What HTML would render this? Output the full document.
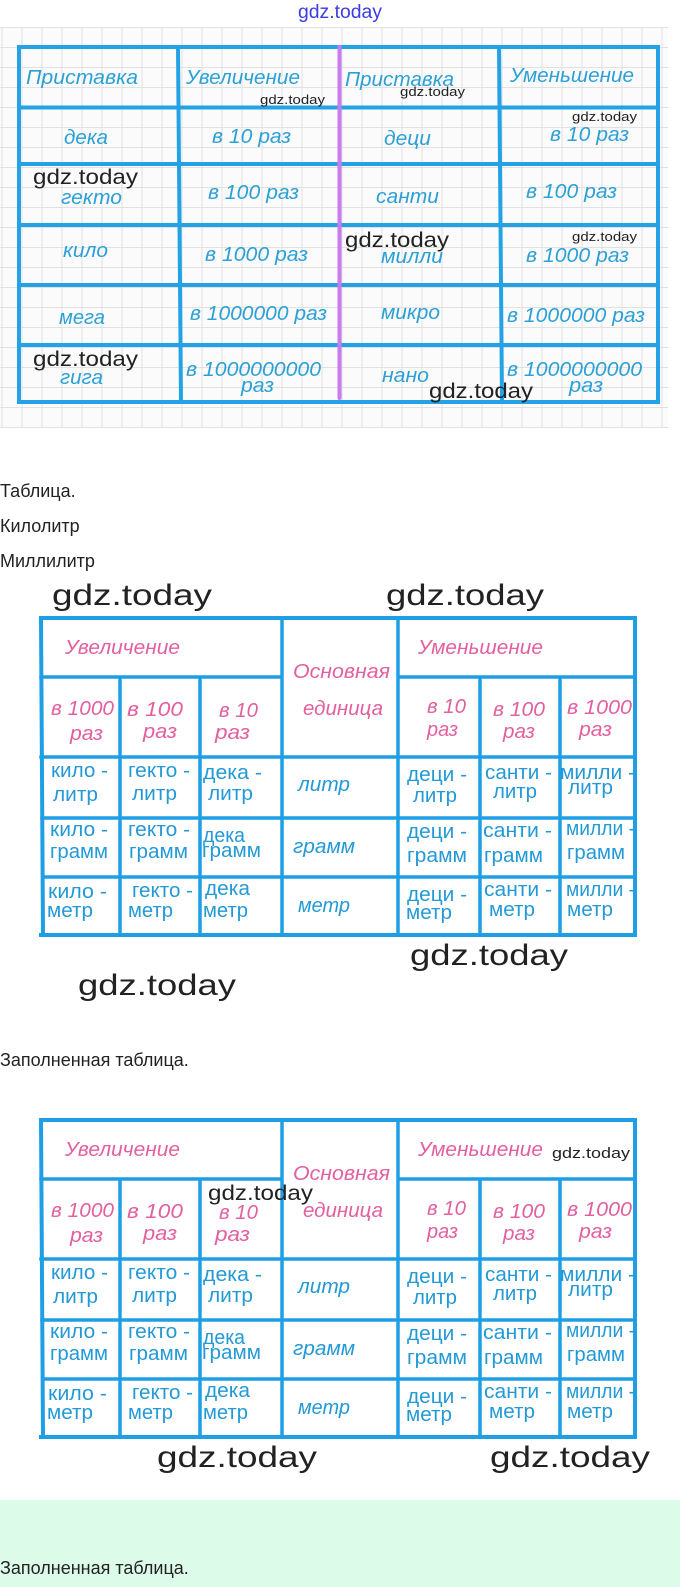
<!DOCTYPE html>
<html>
<head>
<meta charset="utf-8">
<style>
html,body{margin:0;padding:0;background:#fff;}
body{width:680px;height:1587px;overflow:hidden;}
svg{display:block;}
.t1{font-family:"Liberation Sans","DejaVu Sans",sans-serif;font-style:italic;font-size:20px;fill:#2ca0d6;}
.pk{font-family:"Liberation Sans","DejaVu Sans",sans-serif;font-style:italic;font-size:20px;fill:#e2609f;}
.bd{font-family:"Liberation Sans","DejaVu Sans",sans-serif;font-size:20px;fill:#2399d6;}
.bi{font-family:"Liberation Sans","DejaVu Sans",sans-serif;font-style:italic;font-size:20px;fill:#2399d6;}
.wm{font-family:"Liberation Sans","DejaVu Sans",sans-serif;fill:#222;}
.pt{font-family:"Liberation Sans","DejaVu Sans",sans-serif;font-size:18px;fill:#222;}
</style>
</head>
<body>
<svg width="680" height="1587" viewBox="0 0 680 1587" xmlns="http://www.w3.org/2000/svg">
<defs>
<pattern id="grid" x="1.5" y="27" width="20" height="20" patternUnits="userSpaceOnUse">
<rect width="20" height="20" fill="#fbfbfb"/>
<path d="M0 0.5H20M0.5 0V20" stroke="#e1e1e1" stroke-width="1"/>
</pattern>
</defs>

<!-- top watermark -->
<text class="wm" x="298" y="18" font-size="19" style="fill:#3c3ce0" textLength="84" lengthAdjust="spacingAndGlyphs">gdz.today</text>

<!-- grid paper -->
<rect x="0" y="27" width="668" height="401" fill="url(#grid)"/>

<!-- TABLE 1 lines -->
<g fill="none" stroke="#23a3e6" stroke-width="4" stroke-linecap="square">
<path d="M19 47H658M19 402H658M19 47V402M658 47V402M19 107.5H658M19 164H658M19 225H658M19 285H658M19 345H658M178 47L181 402M499 47L502 402"/>
</g>
<path d="M339.5 47V398" stroke="#c97cf0" stroke-width="4" stroke-linecap="round"/>

<!-- TABLE 1 text -->
<text class="t1" x="26" y="84" textLength="112" lengthAdjust="spacingAndGlyphs">Приставка</text>
<text class="t1" x="186" y="84" textLength="114" lengthAdjust="spacingAndGlyphs">Увеличение</text>
<text class="t1" x="345" y="86" textLength="109" lengthAdjust="spacingAndGlyphs">Приставка</text>
<text class="t1" x="510" y="82" textLength="124" lengthAdjust="spacingAndGlyphs">Уменьшение</text>

<text class="t1" x="64" y="144" textLength="44" lengthAdjust="spacingAndGlyphs">дека</text>
<text class="t1" x="212" y="143" textLength="79" lengthAdjust="spacingAndGlyphs">в 10 раз</text>
<text class="t1" x="384" y="145" textLength="47" lengthAdjust="spacingAndGlyphs">деци</text>
<text class="t1" x="550" y="141" textLength="79" lengthAdjust="spacingAndGlyphs">в 10 раз</text>

<text class="t1" x="61" y="204" textLength="61" lengthAdjust="spacingAndGlyphs">гекто</text>
<text class="t1" x="208" y="199" textLength="91" lengthAdjust="spacingAndGlyphs">в 100 раз</text>
<text class="t1" x="376" y="203" textLength="63" lengthAdjust="spacingAndGlyphs">санти</text>
<text class="t1" x="526" y="198" textLength="91" lengthAdjust="spacingAndGlyphs">в 100 раз</text>

<text class="t1" x="63" y="257" textLength="45" lengthAdjust="spacingAndGlyphs">кило</text>
<text class="t1" x="205" y="261" textLength="103" lengthAdjust="spacingAndGlyphs">в 1000 раз</text>
<text class="t1" x="381" y="263" textLength="62" lengthAdjust="spacingAndGlyphs">милли</text>
<text class="t1" x="526" y="262" textLength="103" lengthAdjust="spacingAndGlyphs">в 1000 раз</text>

<text class="t1" x="59" y="324" textLength="46" lengthAdjust="spacingAndGlyphs">мега</text>
<text class="t1" x="190" y="320" textLength="137" lengthAdjust="spacingAndGlyphs">в 1000000 раз</text>
<text class="t1" x="381" y="319" textLength="59" lengthAdjust="spacingAndGlyphs">микро</text>
<text class="t1" x="507" y="322" textLength="138" lengthAdjust="spacingAndGlyphs">в 1000000 раз</text>

<text class="t1" x="60" y="384" textLength="43" lengthAdjust="spacingAndGlyphs">гига</text>
<text class="t1" x="186" y="376" textLength="135" lengthAdjust="spacingAndGlyphs">в 1000000000</text>
<text class="t1" x="241" y="392" textLength="33" lengthAdjust="spacingAndGlyphs">раз</text>
<text class="t1" x="382" y="382" textLength="47" lengthAdjust="spacingAndGlyphs">нано</text>
<text class="t1" x="507" y="376" textLength="135" lengthAdjust="spacingAndGlyphs">в 1000000000</text>
<text class="t1" x="569" y="392" textLength="34" lengthAdjust="spacingAndGlyphs">раз</text>

<!-- TABLE 1 watermarks -->
<text class="wm" x="260" y="104" font-size="13" textLength="65" lengthAdjust="spacingAndGlyphs">gdz.today</text>
<text class="wm" x="400" y="96" font-size="13" textLength="65" lengthAdjust="spacingAndGlyphs">gdz.today</text>
<text class="wm" x="572" y="121" font-size="13" textLength="65" lengthAdjust="spacingAndGlyphs">gdz.today</text>
<text class="wm" x="572" y="241" font-size="13" textLength="65" lengthAdjust="spacingAndGlyphs">gdz.today</text>
<text class="wm" x="33" y="184" font-size="21" textLength="105" lengthAdjust="spacingAndGlyphs">gdz.today</text>
<text class="wm" x="345" y="247" font-size="21" textLength="104" lengthAdjust="spacingAndGlyphs">gdz.today</text>
<text class="wm" x="33" y="366" font-size="21" textLength="105" lengthAdjust="spacingAndGlyphs">gdz.today</text>
<text class="wm" x="429" y="398" font-size="21" textLength="104" lengthAdjust="spacingAndGlyphs">gdz.today</text>

<!-- paragraph texts -->
<text class="pt" x="0" y="497">Таблица.</text>
<text class="pt" x="0" y="532">Килолитр</text>
<text class="pt" x="0" y="567">Миллилитр</text>

<!-- TABLE 2 watermarks -->
<text class="wm" x="52" y="605" font-size="30" textLength="160" lengthAdjust="spacingAndGlyphs">gdz.today</text>
<text class="wm" x="386" y="605" font-size="30" textLength="158" lengthAdjust="spacingAndGlyphs">gdz.today</text>

<!-- TABLE 2 -->
<g>
<g fill="none" stroke="#1e9fe5" stroke-linecap="square">
<path stroke-width="4" d="M41 618H635M41 935H635M41 618L43 935M635 618V935"/>
<path stroke-width="3.5" d="M41 677H282M398 677H635M282 618V935M398 618V935M120 677V935M200 677V935M480 677V935M560 677V935M41 757H635M42 818H635M43 877H635"/>
</g>
<text class="pk" x="65" y="654" textLength="115" lengthAdjust="spacingAndGlyphs">Увеличение</text>
<text class="pk" x="293" y="678" textLength="97" lengthAdjust="spacingAndGlyphs">Основная</text>
<text class="pk" x="303" y="715" textLength="80" lengthAdjust="spacingAndGlyphs">единица</text>
<text class="pk" x="418" y="654" textLength="125" lengthAdjust="spacingAndGlyphs">Уменьшение</text>
<text class="pk" x="51" y="715" textLength="63" lengthAdjust="spacingAndGlyphs">в 1000</text>
<text class="pk" x="70" y="740" textLength="33" lengthAdjust="spacingAndGlyphs">раз</text>
<text class="pk" x="127" y="716" textLength="56" lengthAdjust="spacingAndGlyphs">в 100</text>
<text class="pk" x="143" y="738" textLength="34" lengthAdjust="spacingAndGlyphs">раз</text>
<text class="pk" x="219" y="717" textLength="39" lengthAdjust="spacingAndGlyphs">в 10</text>
<text class="pk" x="215" y="739" textLength="35" lengthAdjust="spacingAndGlyphs">раз</text>
<text class="pk" x="427" y="713" textLength="39" lengthAdjust="spacingAndGlyphs">в 10</text>
<text class="pk" x="427" y="736" textLength="31" lengthAdjust="spacingAndGlyphs">раз</text>
<text class="pk" x="493" y="716" textLength="52" lengthAdjust="spacingAndGlyphs">в 100</text>
<text class="pk" x="503" y="738" textLength="32" lengthAdjust="spacingAndGlyphs">раз</text>
<text class="pk" x="567" y="714" textLength="65" lengthAdjust="spacingAndGlyphs">в 1000</text>
<text class="pk" x="579" y="736" textLength="33" lengthAdjust="spacingAndGlyphs">раз</text>

<text class="bd" x="51" y="777" textLength="57" lengthAdjust="spacingAndGlyphs">кило -</text>
<text class="bd" x="53" y="801" textLength="45" lengthAdjust="spacingAndGlyphs">литр</text>
<text class="bd" x="128" y="777" textLength="62" lengthAdjust="spacingAndGlyphs">гекто -</text>
<text class="bd" x="132" y="800" textLength="45" lengthAdjust="spacingAndGlyphs">литр</text>
<text class="bd" x="203" y="779" textLength="59" lengthAdjust="spacingAndGlyphs">дека -</text>
<text class="bd" x="208" y="800" textLength="45" lengthAdjust="spacingAndGlyphs">литр</text>
<text class="bi" x="298" y="791" textLength="52" lengthAdjust="spacingAndGlyphs">литр</text>
<text class="bd" x="407" y="781" textLength="60" lengthAdjust="spacingAndGlyphs">деци -</text>
<text class="bd" x="413" y="802" textLength="44" lengthAdjust="spacingAndGlyphs">литр</text>
<text class="bd" x="485" y="779" textLength="67" lengthAdjust="spacingAndGlyphs">санти -</text>
<text class="bd" x="493" y="798" textLength="44" lengthAdjust="spacingAndGlyphs">литр</text>
<text class="bd" x="560" y="779" textLength="75" lengthAdjust="spacingAndGlyphs">милли -</text>
<text class="bd" x="568" y="794" textLength="45" lengthAdjust="spacingAndGlyphs">литр</text>

<text class="bd" x="50" y="836" textLength="58" lengthAdjust="spacingAndGlyphs">кило -</text>
<text class="bd" x="50" y="858" textLength="58" lengthAdjust="spacingAndGlyphs">грамм</text>
<text class="bd" x="128" y="836" textLength="62" lengthAdjust="spacingAndGlyphs">гекто -</text>
<text class="bd" x="129" y="858" textLength="59" lengthAdjust="spacingAndGlyphs">грамм</text>
<text class="bd" x="203" y="842" textLength="42" lengthAdjust="spacingAndGlyphs">дека</text>
<text class="bd" x="202" y="857" textLength="59" lengthAdjust="spacingAndGlyphs">грамм</text>
<text class="bi" x="293" y="853" textLength="62" lengthAdjust="spacingAndGlyphs">грамм</text>
<text class="bd" x="407" y="838" textLength="60" lengthAdjust="spacingAndGlyphs">деци -</text>
<text class="bd" x="407" y="862" textLength="60" lengthAdjust="spacingAndGlyphs">грамм</text>
<text class="bd" x="483" y="837" textLength="69" lengthAdjust="spacingAndGlyphs">санти -</text>
<text class="bd" x="484" y="862" textLength="59" lengthAdjust="spacingAndGlyphs">грамм</text>
<text class="bd" x="566" y="835" textLength="69" lengthAdjust="spacingAndGlyphs">милли -</text>
<text class="bd" x="567" y="859" textLength="58" lengthAdjust="spacingAndGlyphs">грамм</text>

<text class="bd" x="48" y="898" textLength="59" lengthAdjust="spacingAndGlyphs">кило -</text>
<text class="bd" x="47" y="917" textLength="46" lengthAdjust="spacingAndGlyphs">метр</text>
<text class="bd" x="132" y="897" textLength="61" lengthAdjust="spacingAndGlyphs">гекто -</text>
<text class="bd" x="128" y="917" textLength="45" lengthAdjust="spacingAndGlyphs">метр</text>
<text class="bd" x="205" y="895" textLength="45" lengthAdjust="spacingAndGlyphs">дека</text>
<text class="bd" x="203" y="917" textLength="45" lengthAdjust="spacingAndGlyphs">метр</text>
<text class="bi" x="298" y="912" textLength="52" lengthAdjust="spacingAndGlyphs">метр</text>
<text class="bd" x="407" y="901" textLength="60" lengthAdjust="spacingAndGlyphs">деци -</text>
<text class="bd" x="406" y="919" textLength="46" lengthAdjust="spacingAndGlyphs">метр</text>
<text class="bd" x="484" y="896" textLength="68" lengthAdjust="spacingAndGlyphs">санти -</text>
<text class="bd" x="489" y="916" textLength="46" lengthAdjust="spacingAndGlyphs">метр</text>
<text class="bd" x="566" y="896" textLength="69" lengthAdjust="spacingAndGlyphs">милли -</text>
<text class="bd" x="567" y="916" textLength="46" lengthAdjust="spacingAndGlyphs">метр</text>
</g>

<!-- watermarks below table 2 -->
<text class="wm" x="410" y="965" font-size="30" textLength="158" lengthAdjust="spacingAndGlyphs">gdz.today</text>
<text class="wm" x="78" y="995" font-size="30" textLength="158" lengthAdjust="spacingAndGlyphs">gdz.today</text>

<text class="pt" x="0" y="1066">Заполненная таблица.</text>

<!-- TABLE 3 (same as table 2, shifted) -->
<g transform="translate(0,502)">
<g fill="none" stroke="#1e9fe5" stroke-linecap="square">
<path stroke-width="4" d="M41 618H635M41 935H635M41 618L43 935M635 618V935"/>
<path stroke-width="3.5" d="M41 677H282M398 677H635M282 618V935M398 618V935M120 677V935M200 677V935M480 677V935M560 677V935M41 757H635M42 818H635M43 877H635"/>
</g>
<text class="pk" x="65" y="654" textLength="115" lengthAdjust="spacingAndGlyphs">Увеличение</text>
<text class="pk" x="293" y="678" textLength="97" lengthAdjust="spacingAndGlyphs">Основная</text>
<text class="pk" x="303" y="715" textLength="80" lengthAdjust="spacingAndGlyphs">единица</text>
<text class="pk" x="418" y="654" textLength="125" lengthAdjust="spacingAndGlyphs">Уменьшение</text>
<text class="pk" x="51" y="715" textLength="63" lengthAdjust="spacingAndGlyphs">в 1000</text>
<text class="pk" x="70" y="740" textLength="33" lengthAdjust="spacingAndGlyphs">раз</text>
<text class="pk" x="127" y="716" textLength="56" lengthAdjust="spacingAndGlyphs">в 100</text>
<text class="pk" x="143" y="738" textLength="34" lengthAdjust="spacingAndGlyphs">раз</text>
<text class="pk" x="219" y="717" textLength="39" lengthAdjust="spacingAndGlyphs">в 10</text>
<text class="pk" x="215" y="739" textLength="35" lengthAdjust="spacingAndGlyphs">раз</text>
<text class="pk" x="427" y="713" textLength="39" lengthAdjust="spacingAndGlyphs">в 10</text>
<text class="pk" x="427" y="736" textLength="31" lengthAdjust="spacingAndGlyphs">раз</text>
<text class="pk" x="493" y="716" textLength="52" lengthAdjust="spacingAndGlyphs">в 100</text>
<text class="pk" x="503" y="738" textLength="32" lengthAdjust="spacingAndGlyphs">раз</text>
<text class="pk" x="567" y="714" textLength="65" lengthAdjust="spacingAndGlyphs">в 1000</text>
<text class="pk" x="579" y="736" textLength="33" lengthAdjust="spacingAndGlyphs">раз</text>

<text class="bd" x="51" y="777" textLength="57" lengthAdjust="spacingAndGlyphs">кило -</text>
<text class="bd" x="53" y="801" textLength="45" lengthAdjust="spacingAndGlyphs">литр</text>
<text class="bd" x="128" y="777" textLength="62" lengthAdjust="spacingAndGlyphs">гекто -</text>
<text class="bd" x="132" y="800" textLength="45" lengthAdjust="spacingAndGlyphs">литр</text>
<text class="bd" x="203" y="779" textLength="59" lengthAdjust="spacingAndGlyphs">дека -</text>
<text class="bd" x="208" y="800" textLength="45" lengthAdjust="spacingAndGlyphs">литр</text>
<text class="bi" x="298" y="791" textLength="52" lengthAdjust="spacingAndGlyphs">литр</text>
<text class="bd" x="407" y="781" textLength="60" lengthAdjust="spacingAndGlyphs">деци -</text>
<text class="bd" x="413" y="802" textLength="44" lengthAdjust="spacingAndGlyphs">литр</text>
<text class="bd" x="485" y="779" textLength="67" lengthAdjust="spacingAndGlyphs">санти -</text>
<text class="bd" x="493" y="798" textLength="44" lengthAdjust="spacingAndGlyphs">литр</text>
<text class="bd" x="560" y="779" textLength="75" lengthAdjust="spacingAndGlyphs">милли -</text>
<text class="bd" x="568" y="794" textLength="45" lengthAdjust="spacingAndGlyphs">литр</text>

<text class="bd" x="50" y="836" textLength="58" lengthAdjust="spacingAndGlyphs">кило -</text>
<text class="bd" x="50" y="858" textLength="58" lengthAdjust="spacingAndGlyphs">грамм</text>
<text class="bd" x="128" y="836" textLength="62" lengthAdjust="spacingAndGlyphs">гекто -</text>
<text class="bd" x="129" y="858" textLength="59" lengthAdjust="spacingAndGlyphs">грамм</text>
<text class="bd" x="203" y="842" textLength="42" lengthAdjust="spacingAndGlyphs">дека</text>
<text class="bd" x="202" y="857" textLength="59" lengthAdjust="spacingAndGlyphs">грамм</text>
<text class="bi" x="293" y="853" textLength="62" lengthAdjust="spacingAndGlyphs">грамм</text>
<text class="bd" x="407" y="838" textLength="60" lengthAdjust="spacingAndGlyphs">деци -</text>
<text class="bd" x="407" y="862" textLength="60" lengthAdjust="spacingAndGlyphs">грамм</text>
<text class="bd" x="483" y="837" textLength="69" lengthAdjust="spacingAndGlyphs">санти -</text>
<text class="bd" x="484" y="862" textLength="59" lengthAdjust="spacingAndGlyphs">грамм</text>
<text class="bd" x="566" y="835" textLength="69" lengthAdjust="spacingAndGlyphs">милли -</text>
<text class="bd" x="567" y="859" textLength="58" lengthAdjust="spacingAndGlyphs">грамм</text>

<text class="bd" x="48" y="898" textLength="59" lengthAdjust="spacingAndGlyphs">кило -</text>
<text class="bd" x="47" y="917" textLength="46" lengthAdjust="spacingAndGlyphs">метр</text>
<text class="bd" x="132" y="897" textLength="61" lengthAdjust="spacingAndGlyphs">гекто -</text>
<text class="bd" x="128" y="917" textLength="45" lengthAdjust="spacingAndGlyphs">метр</text>
<text class="bd" x="205" y="895" textLength="45" lengthAdjust="spacingAndGlyphs">дека</text>
<text class="bd" x="203" y="917" textLength="45" lengthAdjust="spacingAndGlyphs">метр</text>
<text class="bi" x="298" y="912" textLength="52" lengthAdjust="spacingAndGlyphs">метр</text>
<text class="bd" x="407" y="901" textLength="60" lengthAdjust="spacingAndGlyphs">деци -</text>
<text class="bd" x="406" y="919" textLength="46" lengthAdjust="spacingAndGlyphs">метр</text>
<text class="bd" x="484" y="896" textLength="68" lengthAdjust="spacingAndGlyphs">санти -</text>
<text class="bd" x="489" y="916" textLength="46" lengthAdjust="spacingAndGlyphs">метр</text>
<text class="bd" x="566" y="896" textLength="69" lengthAdjust="spacingAndGlyphs">милли -</text>
<text class="bd" x="567" y="916" textLength="46" lengthAdjust="spacingAndGlyphs">метр</text>
</g>

<!-- TABLE 3 watermarks -->
<text class="wm" x="208" y="1200" font-size="21" textLength="105" lengthAdjust="spacingAndGlyphs">gdz.today</text>
<text class="wm" x="552" y="1158" font-size="15" textLength="78" lengthAdjust="spacingAndGlyphs">gdz.today</text>
<text class="wm" x="157" y="1467" font-size="30" textLength="160" lengthAdjust="spacingAndGlyphs">gdz.today</text>
<text class="wm" x="490" y="1467" font-size="30" textLength="160" lengthAdjust="spacingAndGlyphs">gdz.today</text>

<!-- green footer -->
<rect x="0" y="1500" width="680" height="87" fill="#dcfce9"/>
<text class="pt" x="0" y="1574">Заполненная таблица.</text>
</svg>
</body>
</html>
